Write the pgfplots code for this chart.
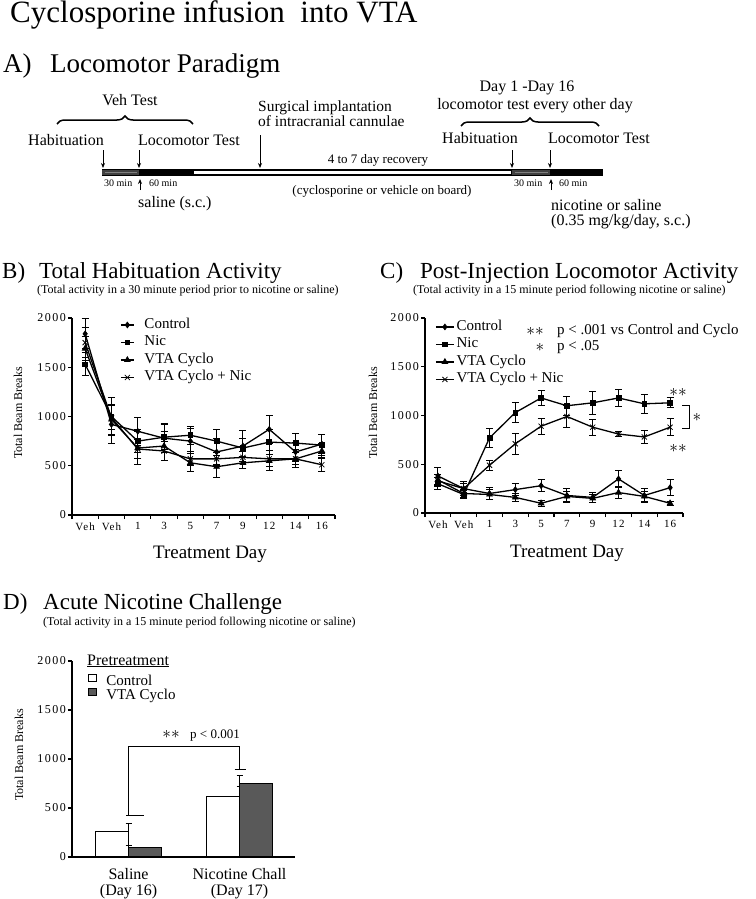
\documentclass[border=0pt]{standalone}
\usepackage{fontspec}
\setmainfont{Liberation Serif}
\usepackage{pgfplots}
\usepackage{pgfplotstable}
\pgfplotsset{compat=1.18}
\usetikzlibrary{arrows.meta,decorations.pathreplacing}
\newcommand{\fs}[1]{\fontsize{#1}{#1}\selectfont}

\pgfplotstableread{
x ctl ctle nic nice cyc cyce cn cne
0 1840 150 1530 115 1690 120 1750 150
1 920 190 1000 190 970 150 990 120
2 850 140 750 120 680 170 670 100
3 780 150 790 130 700 150 650 100
4 750 130 810 90 530 90 570 70
5 640 140 750 120 490 110 570 60
6 700 160 680 100 530 60 585 60
7 870 145 740 130 550 100 570 80
8 640 100 730 100 570 90 570 60
9 720 100 710 110 650 80 510 70
}\tabB

\pgfplotstableread{
x ctl ctle nic nice cyc cyce cn cne
0 380 90 300 60 340 60 330 60
1 250 70 190 40 200 40 250 50
2 200 60 770 100 190 50 490 50
3 240 60 1030 100 160 40 710 110
4 280 60 1180 80 100 30 890 80
5 180 70 1100 100 170 50 990 110
6 160 50 1130 120 150 40 880 80
7 350 90 1180 90 210 60 810 30
8 180 70 1120 100 170 50 780 70
9 260 80 1130 50 100 20 880 90
}\tabC

\pgfplotsset{
  panel/.style={
    scale only axis, clip=false,
    axis x line*=bottom, axis y line*=left,
    axis line style={-, line width=1.3pt},
    tick style={black, line width=1.1pt},
    tick align=outside, major tick length=4pt,
    ymin=0, ymax=2000, ytick={0,500,1000,1500,2000},
    /pgf/number format/assume math mode=true,
    /pgf/number format/1000 sep={},
    yticklabel style={font=\fs{12}\addfontfeature{LetterSpace=12}, inner sep=2pt},
    xticklabel style={font=\fs{11}\addfontfeature{LetterSpace=10}},
  },
  lineplot/.style={
    xmin=-0.5, xmax=9.5,
    xtick={-0.5,0.5,...,9.5}, x tick label as interval,
    xticklabels={Veh,Veh,1,3,5,7,9,12,14,16},
    every axis plot/.append style={black, line width=1.3pt, mark options={solid, fill=black, line width=0.8pt}},
    legend cell align=left,
  },
  eb/.style={error bars/.cd, y dir=both, y explicit, error bar style={line width=1pt}, error mark options={rotate=90, mark size=3.5pt, line width=1pt, black}},
  ctlst/.style={mark=diamond*, mark size=2.8pt},
  nicst/.style={mark=square*, mark size=2.4pt},
  cycst/.style={mark=triangle*, mark size=3.2pt},
  cnst/.style={mark=x, mark size=3.6pt},
}

\begin{document}
\begin{tikzpicture}[x=1pt,y=1pt]
\path[use as bounding box, fill=white] (0,0) rectangle (755,-899);
% ---------- Title and panel A ----------
\node[anchor=base west, inner sep=0pt, font=\fs{31}] at (10,-23) {Cyclosporine infusion\ \ into VTA};
\node[anchor=base west, inner sep=0pt, font=\fs{27}] at (3,-73) {A)};
\node[anchor=base west, inner sep=0pt, font=\fs{27}] at (50,-73) {Locomotor Paradigm};

\begin{scope}[every node/.style={inner sep=0pt}]
\node[anchor=base, font=\fs{16}] at (130,-105) {Veh Test};
\draw[decorate, decoration={brace, amplitude=8pt}, line width=1.5pt] (57,-124) -- (193,-124);
\node[anchor=base west, font=\fs{16}] at (28,-145) {Habituation};
\node[anchor=base west, font=\fs{16}] at (138,-145) {Locomotor Test};
\node[anchor=base west, font=\fs{15.5}] at (258,-111.5) {Surgical implantation};
\node[anchor=base west, font=\fs{15.5}] at (258,-126) {of intracranial cannulae};
\node[anchor=base, font=\fs{16}] at (527,-92) {Day 1 -Day 16};
\node[anchor=base, font=\fs{16}] at (535,-109) {locomotor test every other day};
\draw[decorate, decoration={brace, amplitude=8pt}, line width=1.5pt] (461,-126) -- (599,-126);
\node[anchor=base west, font=\fs{16}] at (442,-143) {Habituation};
\node[anchor=base west, font=\fs{16}] at (548,-143) {Locomotor Test};
\node[anchor=base, font=\fs{13}] at (378,-163) {4 to 7 day recovery};
\node[anchor=base, font=\fs{13}] at (382,-194) {(cyclosporine or vehicle on board)};
\node[anchor=base west, font=\fs{10}] at (104,-186) {30 min};
\node[anchor=base west, font=\fs{10}] at (149,-186) {60 min};
\node[anchor=base west, font=\fs{10}] at (514,-186) {30 min};
\node[anchor=base west, font=\fs{10}] at (559,-186) {60 min};
\node[anchor=base west, font=\fs{16}] at (138,-207) {saline (s.c.)};
\node[anchor=base west, font=\fs{16}] at (551,-210) {nicotine or saline};
\node[anchor=base west, font=\fs{16}] at (551,-225) {(0.35 mg/kg/day, s.c.)};
\end{scope}
% bar
\fill[black] (102,-169) rectangle (603,-176);
\fill[black!75] (102,-169.6) rectangle (139,-175.4);
\fill[black!50] (105,-171.8) rectangle (137,-173.2);
\fill[white] (194,-171.1) rectangle (511,-173.9);
\fill[black!75] (512,-169.6) rectangle (550,-175.4);
\fill[black!50] (515,-171.8) rectangle (548,-173.2);
% arrows
\begin{scope}[line width=0.9pt, -{Stealth[length=5pt,width=4pt]}]
\draw (103,-150) -- (103,-168);
\draw (139,-150) -- (139,-168);
\draw (260,-135) -- (260,-168);
\draw (512,-150) -- (512,-168);
\draw (550,-150) -- (550,-168);
\draw (140,-190) -- (140,-179);
\draw (551,-190) -- (551,-179);
\end{scope}

% ---------- Panel headers ----------
\begin{scope}[every node/.style={inner sep=0pt}]
\node[anchor=base west, font=\fs{23}] at (2,-278) {B)};
\node[anchor=base west, font=\fs{23}] at (39,-278) {Total Habituation Activity};
\node[anchor=base west, font=\fs{12}] at (37,-293) {(Total activity in a 30 minute period prior to nicotine or saline)};
\node[anchor=base west, font=\fs{23}] at (380,-278) {C)};
\node[anchor=base west, font=\fs{23}] at (420,-278) {Post-Injection Locomotor Activity};
\node[anchor=base west, font=\fs{12}] at (413,-293) {(Total activity in a 15 minute period following nicotine or saline)};
\node[anchor=base west, font=\fs{23}] at (3,-609) {D)};
\node[anchor=base west, font=\fs{23}] at (43,-609) {Acute Nicotine Challenge};
\node[anchor=base west, font=\fs{12}] at (43,-625) {(Total activity in a 15 minute period following nicotine or saline)};
\node[rotate=90, font=\fs{12}] at (18,-413) {Total Beam Breaks};
\node[rotate=90, font=\fs{12}] at (373,-413) {Total Beam Breaks};
\node[rotate=90, font=\fs{12}] at (19,-755) {Total Beam Breaks};
\node[anchor=base, font=\fs{19}] at (210,-558) {Treatment Day};
\node[anchor=base, font=\fs{19}] at (567,-557) {Treatment Day};
\end{scope}

% ---------- Panel B ----------
\begin{axis}[panel, lineplot, at={(72pt,-515pt)}, anchor=south west, width=263pt, height=197pt,
  legend style={draw=none, fill=none, at={(0.1825,1.01)}, anchor=north west, inner sep=0pt,
    font=\fs{15}, nodes={inner xsep=0pt, inner ysep=1.75pt, text height=10.5pt, text depth=3.5pt},
    row sep=0pt, /tikz/every even column/.style={column sep=0pt}},
  legend image code/.code={\draw[mark repeat=2,mark phase=2,#1] plot coordinates {(0pt,0pt) (6.5pt,0pt) (13pt,0pt)}; \path (23pt,0pt);}]
\addplot[ctlst, eb] table[x=x, y=ctl, y error=ctle] {\tabB};
\addlegendentry{Control}
\addplot[nicst, eb] table[x=x, y=nic, y error=nice] {\tabB};
\addlegendentry{Nic}
\addplot[cycst, eb] table[x=x, y=cyc, y error=cyce] {\tabB};
\addlegendentry{VTA Cyclo}
\addplot[cnst, eb] table[x=x, y=cn, y error=cne] {\tabB};
\addlegendentry{VTA Cyclo + Nic}
\end{axis}

% ---------- Panel C ----------
\begin{axis}[panel, lineplot, at={(425pt,-513pt)}, anchor=south west, width=258pt, height=195pt,
  legend style={draw=none, fill=none, at={(0.039,1.0)}, anchor=north west, inner sep=0pt,
    font=\fs{15}, nodes={inner xsep=0pt, inner ysep=1.75pt, text height=10.5pt, text depth=3.5pt},
    row sep=0pt, /tikz/every even column/.style={column sep=0pt}},
  legend image code/.code={\draw[mark repeat=2,mark phase=2,#1] plot coordinates {(0pt,0pt) (9pt,0pt) (18pt,0pt)}; \path (20pt,0pt);}]
\addplot[ctlst, eb] table[x=x, y=ctl, y error=ctle] {\tabC};
\addlegendentry{Control}
\addplot[nicst, eb] table[x=x, y=nic, y error=nice] {\tabC};
\addlegendentry{Nic}
\addplot[cycst, eb] table[x=x, y=cyc, y error=cyce] {\tabC};
\addlegendentry{VTA Cyclo}
\addplot[cnst, eb] table[x=x, y=cn, y error=cne] {\tabC};
\addlegendentry{VTA Cyclo + Nic}
\end{axis}
\begin{scope}[every node/.style={inner sep=0pt}]
\node[font=\fs{19}] at (535,-331) {$\ast\ast$};
\node[anchor=base west, font=\fs{15}] at (557,-334) {p < .001 vs Control and Cyclo};
\node[font=\fs{19}] at (540,-347) {$\ast$};
\node[anchor=base west, font=\fs{15}] at (557,-350) {p < .05};
\node[font=\fs{19}] at (678,-392) {$\ast\ast$};
\node[font=\fs{19}] at (678,-448) {$\ast\ast$};
\node[font=\fs{19}] at (697,-417) {$\ast$};
\end{scope}
\draw[line width=1pt] (682,-405) -- (689,-405) -- (689,-428) -- (682,-428);

% ---------- Panel D ----------
\begin{axis}[panel, at={(72pt,-857pt)}, anchor=south west, width=223pt, height=196pt,
  xmin=-0.51, xmax=1.5, xtick={0,1}, xtick style={draw=none},
  xticklabels={{Saline\\(Day 16)},{Nicotine Chall\\(Day 17)}},
  xticklabel style={align=center, font=\fs{16}, yshift=-4pt},
  legend style={draw=none, fill=none, at={(0.072,0.935)}, anchor=north west, inner sep=0pt,
    font=\fs{15}, nodes={inner xsep=0pt, inner ysep=0pt, text height=10.5pt, text depth=2.5pt},
    row sep=0pt, /tikz/every even column/.style={column sep=0pt}},
  legend cell align=left]
\addplot[ybar, bar width=0.297, bar shift=-0.1485, fill=white, draw=black, line width=1.3pt,
  legend image code/.code={\draw[fill=white, line width=0.9pt] (0pt,0pt) rectangle (8pt,7pt); \path (17pt,0pt);},
  error bars/.cd, y dir=plus, y explicit, error bar style={line width=1.1pt}, error mark options={rotate=90, mark size=3pt, line width=1.1pt}]
  coordinates {(0,260) +- (0,80) (1,620) +- (0,95)};
\addlegendentry{Control}
\addplot[ybar, bar width=0.297, bar shift=0.1485, fill=black!65, draw=black, line width=1.3pt,
  legend image code/.code={\draw[fill=black!65, line width=0.9pt] (0pt,0pt) rectangle (8pt,7pt); \path (17pt,0pt);},
  error bars/.cd, y dir=plus, y explicit, error bar style={line width=1.1pt}, error mark options={rotate=90, mark size=3pt, line width=1.1pt}]
  coordinates {(0,100) +- (0,20) (1,750) +- (0,80)};
\addlegendentry{VTA Cyclo}
\draw[line width=1.2pt] (axis cs:0,425) -- (axis cs:0,1130) -- (axis cs:1,1130) -- (axis cs:1,890);
\draw[line width=1.2pt] (axis cs:-0.02,425) -- (axis cs:0.135,425);
\draw[line width=1.2pt] (axis cs:0.955,890) -- (axis cs:1.06,890);
\end{axis}
\begin{scope}[every node/.style={inner sep=0pt}]
\node[anchor=base west, font=\fs{16}] at (87,-665) {\underline{Pretreatment}};
\node[font=\fs{19}] at (171,-734) {$\ast\ast$};
\node[anchor=base west, font=\fs{13}] at (190,-738) {p < 0.001};
\end{scope}
\end{tikzpicture}
\end{document}
